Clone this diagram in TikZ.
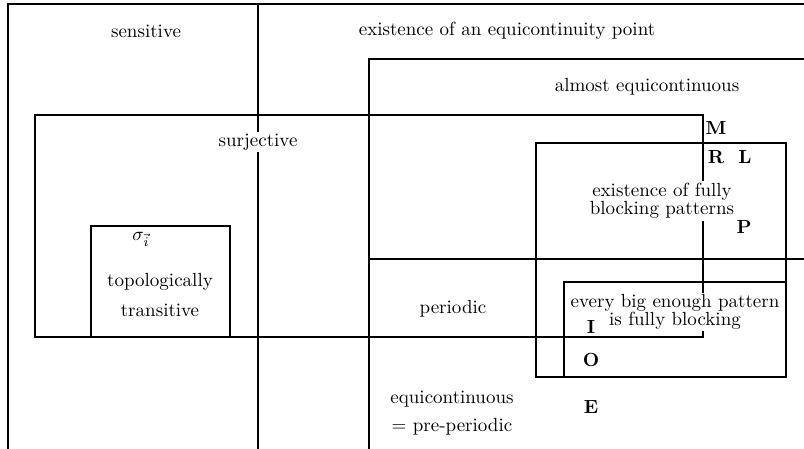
\documentclass[tikz,border=0pt]{standalone}
\usepackage{amsmath}
\usepackage{amssymb}
\begin{document}
\begin{tikzpicture}[x=0.526pt, y=-0.526pt, line width=0.65pt,
    lbl/.style={inner sep=0pt},
    cut/.style={fill=white, inner sep=1pt, align=center},
    letr/.style={font=\bfseries, inner sep=0pt}]
  \useasboundingbox (0,0) rectangle (804,448);
  \clip (0,0) rectangle (804,448);

  % regions
  \draw (812,4) -- (8,4) -- (8,456);
  \draw (258,4) -- (258,456);
  \draw (812,59) -- (369,59) -- (369,456);
  \draw (369,259) -- (812,259);
  \draw (35,115) rectangle (703,337);
  \draw (91,337) -- (91,226) -- (230,226) -- (230,337);
  \draw (536,143) rectangle (786,377);
  \draw (564,377) -- (564,282) -- (786,282);

  % labels
  \node[lbl] (sens) at (146,31) {sensitive};
  \node[lbl] (eqpt) at (507,31) {existence of an equicontinuity point};
  \node[lbl] (almeq) at (647,87) {almost equicontinuous};
  \node[cut] (surj) at (258,142) {surjective};
  \node[cut] (fblk) at (662,201) {existence of fully\\[-2.5pt] blocking patterns};
  \node[lbl] (sigma) at (141,239) {$\sigma_{\vec{i}}$};
  \node[lbl] (topo) at (160,282) {topologically};
  \node[lbl] (trans) at (160,310) {transitive};
  \node[lbl] (per) at (453,309) {periodic};
  \node[cut] (every) at (675,312) {every big enough pattern\\[-2.5pt] is fully blocking};
  \node[lbl] (equi) at (452,399) {equicontinuous};
  \node[lbl] (prep) at (452,427) {$=$ pre-periodic};

  % class letters
  \node[letr] (M) at (716,128) {M};
  \node[letr] (R) at (716,157) {R};
  \node[letr] (L) at (745,157) {L};
  \node[letr] (P) at (744,227) {P};
  \node[letr] (I) at (591,327) {I};
  \node[letr] (O) at (591,360) {O};
  \node[letr] (E) at (591,407) {E};
\end{tikzpicture}
\end{document}
